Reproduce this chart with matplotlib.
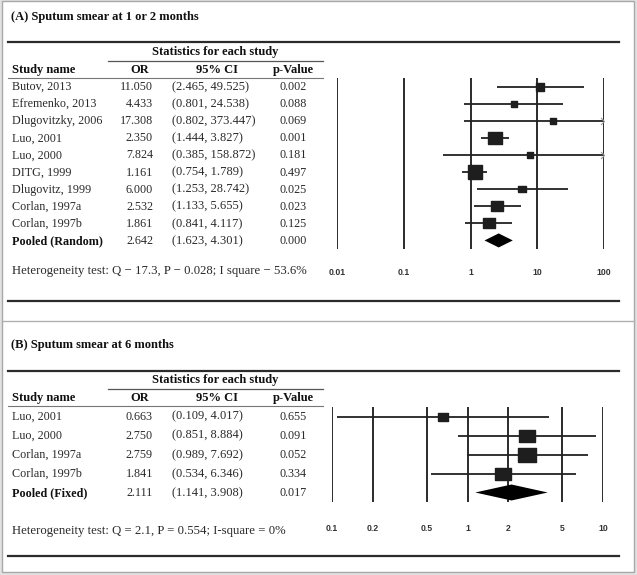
import matplotlib.pyplot as plt
from matplotlib.patches import Rectangle
import numpy as np

plt.rcParams['font.family'] = ['Liberation Serif', 'DejaVu Serif']

# ------------------ Dados ----------------------
titulo_a = "(A) Sputum smear at 1 or 2 months"
estudos_a = ["Butov, 2013", "Efremenko, 2013", "Dlugovitzky, 2006", "Luo, 2001", "Luo, 2000",
             "DITG, 1999", "Dlugovitz, 1999", "Corlan, 1997a", "Corlan, 1997b"]
or_a = [11.050, 4.433, 17.308, 2.350, 7.824, 1.161, 6.000, 2.532, 1.861]
li_a = [2.465, 0.801, 0.802, 1.444, 0.385, 0.754, 1.253, 1.133, 0.841]
ls_a = [49.525, 24.538, 373.447, 3.827, 158.872, 1.789, 28.742, 5.655, 4.117]
p_a = ["0.002", "0.088", "0.069", "0.001", "0.181", "0.497", "0.025", "0.023", "0.125"]
peso_a = [7.0, 5.3, 4.9, 21.4, 3.9, 23.6, 5.8, 13.2, 14.9]
pooled_nome_a = "Pooled (Random)"
pooled_a = [2.642, 1.623, 4.301]
pooled_p_a = "0.000"
het_a = "Heterogeneity test: Q \u2212 17.3, P \u2212 0.028; I square \u2212 53.6%"
ticks_a = [0.01, 0.1, 1, 10, 100]
ticklabels_a = ["0.01", "0.1", "1", "10", "100"]

titulo_b = "(B) Sputum smear at 6 months"
estudos_b = ["Luo, 2001", "Luo, 2000", "Corlan, 1997a", "Corlan, 1997b"]
or_b = [0.663, 2.750, 2.759, 1.841]
li_b = [0.109, 0.851, 0.989, 0.534]
ls_b = [4.017, 8.884, 7.692, 6.346]
p_b = ["0.655", "0.091", "0.052", "0.334"]
peso_b = [12.0, 26.0, 37.0, 25.0]
pooled_nome_b = "Pooled (Fixed)"
pooled_b = [2.111, 1.141, 3.908]
pooled_p_b = "0.017"
het_b = "Heterogeneity test: Q = 2.1, P = 0.554; I-square = 0%"
ticks_b = [0.1, 0.2, 0.5, 1, 2, 5, 10]
ticklabels_b = ["0.1", "0.2", "0.5", "1", "2", "5", "10"]

# ------------------ Layout (pixels) ----------------
W, H = 637, 575
fs = 9.0       # titulos e cabecalhos
fs_lin = 8.7   # linhas da tabela
fs_het = 9.2
cor_txt = "#2a2a2a"
cor_lin = "#2b2b2b"

fig = plt.figure(figsize=(W / 100, H / 100), dpi=100, facecolor="#e2e2e2")
ax0 = fig.add_axes([0, 0, 1, 1])
ax0.set_xlim(0, W)
ax0.set_ylim(H, 0)
ax0.axis("off")
ax0.add_patch(Rectangle((1.5, 0.5), 632.5, 571.5, facecolor="white", edgecolor="#a8a8a8", lw=1))
ax0.plot([2, 634], [321, 321], color="#b0b0b0", lw=1)


def painel(titulo, estudos, ors, lis, lss, ps, pesos, pooled_nome, pooled, pooled_p, het,
           ticks, ticklabels, y_tit, y_top, y_stat, y_row0, passo, y_het, y_bot,
           f_top, f_bot, f_x0, f_x1, k_mark, aspecto, meia_diam, pad):
    ax0.text(11, y_tit, titulo, fontsize=fs, fontweight="bold", va="center", color="#111")
    ax0.plot([8, 619], [y_top, y_top], color=cor_lin, lw=1.6)
    ax0.text(215, y_stat, "Statistics for each study", fontsize=fs, fontweight="bold",
             ha="center", va="center", color="#111")
    ax0.plot([108, 323], [y_stat + 8.5, y_stat + 8.5], color="#555", lw=0.9)
    y_head = y_stat + 18
    ax0.text(12, y_head, "Study name", fontsize=fs, fontweight="bold", va="center", color="#111")
    ax0.text(140, y_head, "OR", fontsize=fs, fontweight="bold", ha="center", va="center", color="#111")
    ax0.text(217, y_head, "95% CI", fontsize=fs, fontweight="bold", ha="center", va="center", color="#111")
    ax0.text(293, y_head, "p-Value", fontsize=fs, fontweight="bold", ha="center", va="center", color="#111")
    ax0.plot([8, 323], [y_head + 8, y_head + 8], color="#777", lw=0.8)

    nomes = estudos + [pooled_nome]
    vals = list(ors) + [pooled[0]]
    los = list(lis) + [pooled[1]]
    his = list(lss) + [pooled[2]]
    pvs = list(ps) + [pooled_p]
    for i in range(len(nomes)):
        y = y_row0 + passo * i
        negrito = "bold" if i == len(nomes) - 1 else "normal"
        ax0.text(12, y, nomes[i], fontsize=fs_lin, fontweight=negrito, va="center",
                 color="#111" if negrito == "bold" else cor_txt)
        ax0.text(153, y, "%.3f" % vals[i], fontsize=fs_lin, ha="right", va="center", color=cor_txt)
        ax0.text(172, y, "(%.3f, %.3f)" % (los[i], his[i]), fontsize=fs, ha="left", va="center", color=cor_txt)
        ax0.text(307, y, pvs[i], fontsize=fs_lin, ha="right", va="center", color=cor_txt)

    ax0.text(12, y_het, het, fontsize=fs_het, va="center", color=cor_txt)
    ax0.plot([8, 619], [y_bot, y_bot], color=cor_lin, lw=1.6)

    # forest plot
    ax = fig.add_axes([f_x0 / W, 1 - f_bot / H, (f_x1 - f_x0) / W, (f_bot - f_top) / H])
    ax.patch.set_alpha(0)
    ax.set_xscale("log")
    ax.set_xlim(ticks[0], ticks[-1])
    ax.set_ylim(len(estudos) + 0.5, -0.5)
    for s in ax.spines.values():
        s.set_visible(False)
    ax.set_yticks([])
    ax.set_xticks(ticks)
    ax.set_xticklabels(ticklabels, fontsize=6.2, fontweight="bold", family="Liberation Sans", color="#333")
    ax.minorticks_off()
    ax.tick_params(axis="x", length=0, pad=pad)
    for t in ticks:
        ax.axvline(t, color=cor_lin, lw=1.4, zorder=1)

    caixa = [(-aspecto, -1), (aspecto, -1), (aspecto, 1), (-aspecto, 1), (-aspecto, -1)]
    chevron = [(-1, 1), (0, 0), (-1, -1)]
    for i in range(len(estudos)):
        ax.plot([max(lis[i], ticks[0]), min(lss[i], ticks[-1])], [i, i], color="#222", lw=1.3,
                zorder=2, solid_capstyle="butt")
        if lss[i] > ticks[-1]:
            ax.plot(ticks[-1], i, marker=chevron, ms=5, mfc="none", mec="#999", mew=0.8,
                    clip_on=False, zorder=3)
        lado = k_mark * np.sqrt(pesos[i]) * 0.72
        ax.plot(ors[i], i, marker=caixa, ms=lado, color="#1e1e1e", zorder=3)

    r = len(estudos)
    ax.fill([pooled[1], pooled[0], pooled[2], pooled[0]],
            [r, r - meia_diam, r, r + meia_diam], color="#000", zorder=3, lw=0)


painel(titulo_a, estudos_a, or_a, li_a, ls_a, p_a, peso_a, pooled_nome_a, pooled_a, pooled_p_a,
       het_a, ticks_a, ticklabels_a, y_tit=17, y_top=42, y_stat=52, y_row0=87, passo=17.1,
       y_het=271, y_bot=301, f_top=78, f_bot=249, f_x0=337, f_x1=604, k_mark=3.03,
       aspecto=1.1, meia_diam=0.41, pad=14)

painel(titulo_b, estudos_b, or_b, li_b, ls_b, p_b, peso_b, pooled_nome_b, pooled_b, pooled_p_b,
       het_b, ticks_b, ticklabels_b, y_tit=345, y_top=371, y_stat=380, y_row0=416.5, passo=19.2,
       y_het=531, y_bot=556, f_top=407, f_bot=502, f_x0=332, f_x1=603, k_mark=3.07,
       aspecto=1.3, meia_diam=0.42, pad=16)

fig.savefig("out.png", dpi=100, facecolor=fig.get_facecolor())
